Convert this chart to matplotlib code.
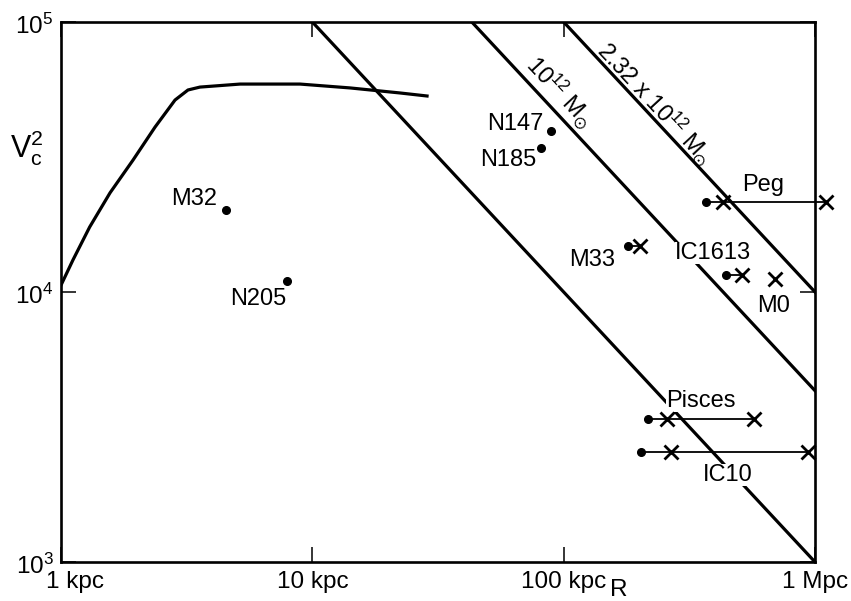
import numpy as np
import matplotlib.pyplot as plt

plt.rcParams['font.family'] = ['Liberation Sans', 'DejaVu Sans']
plt.rcParams['mathtext.fontset'] = 'custom'
plt.rcParams['mathtext.rm'] = 'Liberation Sans'
plt.rcParams['mathtext.it'] = 'Liberation Sans:italic'

# rotation curve (R in kpc, Vc^2)
curve_r = [1.0, 1.116, 1.30, 1.567, 1.934, 2.366, 2.842, 3.20, 3.57, 5.16, 8.93, 14.1, 22.3, 28.6]
curve_v2 = [10600, 13150, 17400, 23300, 30800, 40800, 51400, 56000, 57400, 58900, 58900, 57000, 54600, 53200]

# mass lines: V^2 = K / R
line_k = [1.0e6, 4.31e6, 1.0e7]

# single dots
dot_names = ["M32", "N205", "N147", "N185"]
dot_r = [4.54, 7.93, 89.1, 81.3]
dot_v2 = [20100, 11000, 39500, 34200]

# galaxies with dot -> crosses
gal_names = ["M33", "Peg", "IC1613", "Pisces", "IC10"]
gal_dot_r = [180, 369, 443, 217, 203]
gal_x_r = [[201], [431, 1107], [513], [258, 572], [267, 939]]
gal_v2 = [14800, 21500, 11600, 3390, 2550]

m0_r = 694
m0_v2 = 11200

fig = plt.figure(figsize=(8.51, 6.01), dpi=100)
ax = fig.add_axes([0.0717, 0.0649, 0.886, 0.8985])
ax.set_xscale('log')
ax.set_yscale('log')
ax.set_xlim(1, 1000)
ax.set_ylim(1e3, 1e5)

ax.plot(curve_r, curve_v2, color='black', lw=2.3, zorder=1)

rr = np.array([1, 1000])
for k in line_k:
    ax.plot(rr, k / rr, color='black', lw=2.3, zorder=1)

ax.plot(dot_r, dot_v2, 'o', color='black', ms=5.5, zorder=4)

for i in range(len(gal_names)):
    xs = [gal_dot_r[i]] + gal_x_r[i]
    ax.plot(xs, [gal_v2[i]] * len(xs), color='black', lw=1.3, clip_on=False, zorder=4)
    ax.plot(gal_dot_r[i], gal_v2[i], 'o', color='black', ms=5.5, zorder=4)
    ax.plot(gal_x_r[i], [gal_v2[i]] * len(gal_x_r[i]), 'x', color='black',
            ms=10.5, mew=2, clip_on=False, zorder=4)
ax.plot(m0_r, m0_v2, 'x', color='black', ms=10.5, mew=2, zorder=4)

fs = 17
wb = dict(facecolor='white', edgecolor='none', pad=0.1)
ax.text(3.38, 22100, "M32", fontsize=fs, ha='center', va='center')
ax.text(6.08, 9420, "N205", fontsize=fs, ha='center', va='center')
ax.text(64.1, 41900, "N147", fontsize=fs, ha='center', va='center')
ax.text(60.1, 30800, "N185", fontsize=fs, ha='center', va='center')
ax.text(129.8, 13140, "M33", fontsize=fs, ha='center', va='center')
ax.text(621, 24900, "Peg", fontsize=fs, ha='center', va='center')
ax.text(393, 13940, "IC1613", fontsize=fs, ha='center', va='center', bbox=wb, zorder=2)
ax.text(681, 8880, "M0", fontsize=fs, ha='center', va='center')
ax.text(352, 3950, "Pisces", fontsize=fs, ha='center', va='center', bbox=wb, zorder=2)
ax.text(451, 2100, "IC10", fontsize=fs, ha='center', va='center', bbox=wb, zorder=2)

ax.text(96.8, 55500, r"$\mathregular{10^{12}\ M_{\odot}}$", fontsize=fs, rotation=-47,
        ha='center', va='center', rotation_mode='anchor')
ax.text(231, 50100, r"$\mathregular{2.32\ x\ 10^{12}\ M_{\odot}}$", fontsize=fs, rotation=-47,
        ha='center', va='center', rotation_mode='anchor')

for s in ax.spines.values():
    s.set_linewidth(1.9)
ax.tick_params(which='minor', length=0)
ax.tick_params(which='major', direction='in', length=11, width=1.1,
               top=True, right=True, bottom=True, left=True,
               labelbottom=False, labelleft=False)
ax.set_xticks([1, 10, 100, 1000])
ax.set_yticks([1e3, 1e4, 1e5])

xlabels = ["1 kpc", "10 kpc", "100 kpc", "1 Mpc"]
for xv, lab in zip([1.135, 10, 100, 1000], xlabels):
    ax.text(xv, -0.016, lab, transform=ax.get_xaxis_transform(),
            fontsize=17.5, ha='center', va='top')
for yv, lab in zip([1e3, 1e4, 1e5], ["$\\mathregular{10^3}$", "$\\mathregular{10^4}$", "$\\mathregular{10^5}$"]):
    ax.text(-0.01, yv * 0.9, lab, transform=ax.get_yaxis_transform(),
            fontsize=17.5, ha='right', va='baseline')

fig.text(619 / 851, 1 - 590 / 601, "R", fontsize=17.5, ha='center', va='center')
fig.text(27 / 851, 1 - 148 / 601, r"$\mathregular{V_c^2}$", fontsize=22, ha='center', va='center')

fig.savefig("out.png", dpi=100)
